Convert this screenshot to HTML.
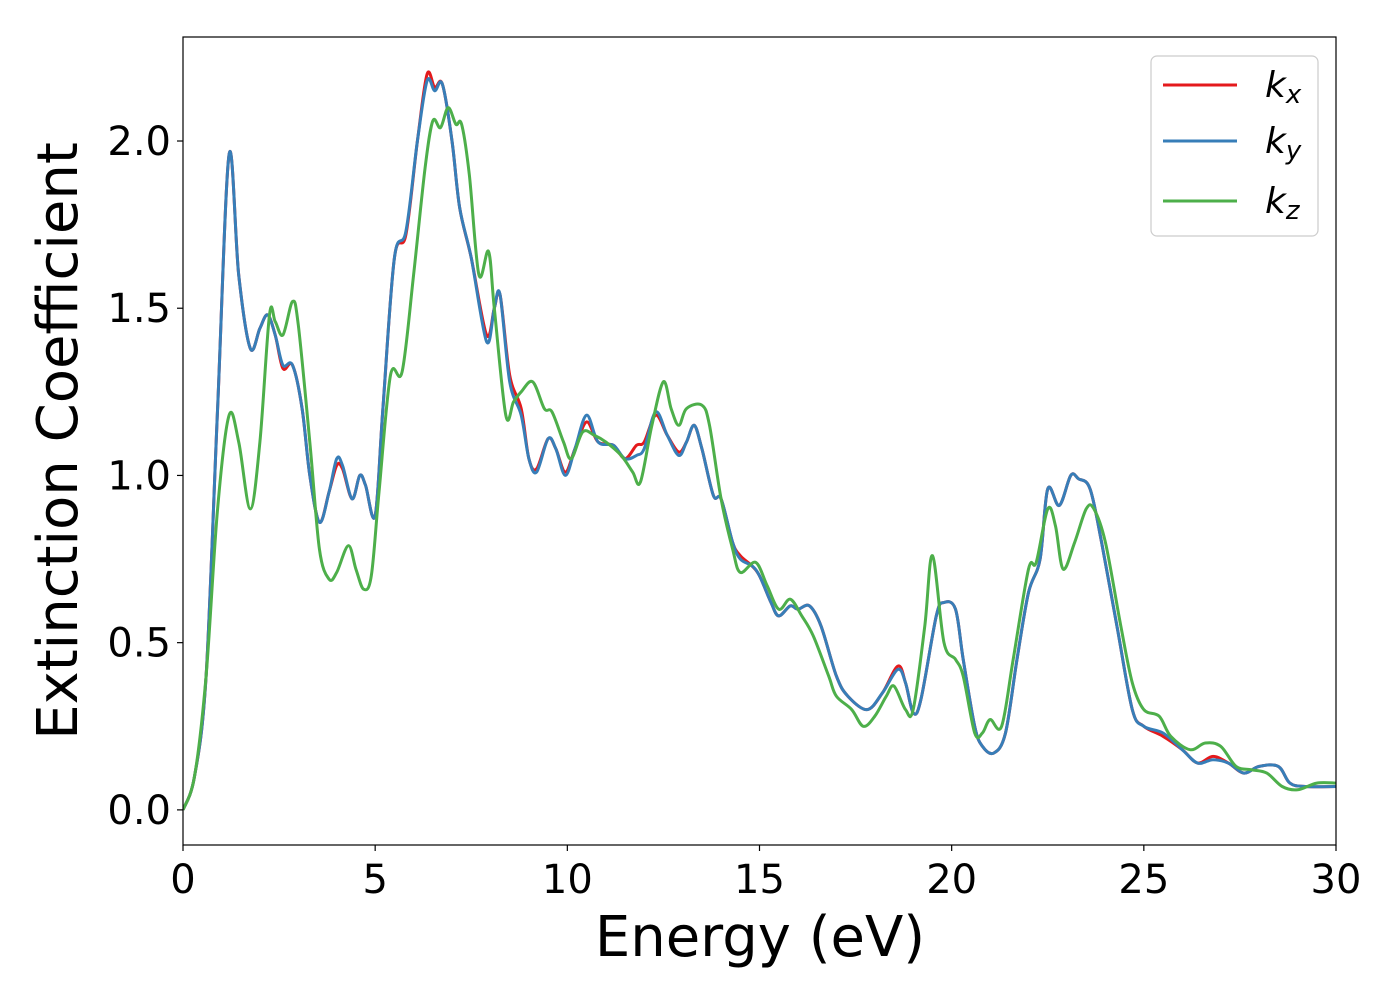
<!DOCTYPE html>
<html><head><meta charset="utf-8"><style>
body{margin:0;background:#fff;}
svg{display:block;font-family:"DejaVu Sans","Liberation Sans",sans-serif;}
</style></head><body>
<svg id="chart" width="1400" height="1000" viewBox="0 0 1400 1000">
<rect x="0" y="0" width="1400" height="1000" fill="#fff"/>
<g id="plot"></g>
<rect x="183" y="37" width="1153" height="808" fill="none" stroke="#000" stroke-width="1.2"/>
<g id="ticks"></g>
<text x="760" y="956" font-size="56" text-anchor="middle">Energy (eV)</text>
<text transform="translate(77,441) rotate(-90)" font-size="56" text-anchor="middle">Extinction Coefficient</text>
<g>
<rect x="1151" y="56" width="167" height="180" rx="6" fill="#fff" fill-opacity="0.8" stroke="#ccc" stroke-width="1.2"/>
<line x1="1163" y1="85" x2="1237" y2="85" stroke="#e41a1c" stroke-width="3"/>
<text x="1265" y="97" font-size="36" font-style="italic">k<tspan font-size="26" dy="6">x</tspan></text>
<line x1="1163" y1="141" x2="1237" y2="141" stroke="#377eb8" stroke-width="3"/>
<text x="1265" y="153" font-size="36" font-style="italic">k<tspan font-size="26" dy="6">y</tspan></text>
<line x1="1163" y1="201" x2="1237" y2="201" stroke="#4daf4a" stroke-width="3"/>
<text x="1265" y="213" font-size="36" font-style="italic">k<tspan font-size="26" dy="6">z</tspan></text>
</g>
</svg>
<script>
const xTicks=[0,5,10,15,20,25,30];
const yTicks=[0.0,0.5,1.0,1.5,2.0];
const yTickLabels=["0.0","0.5","1.0","1.5","2.0"];
const kxE=[0,0.3,0.6,0.9,1.2,1.45,1.75,2.0,2.2,2.4,2.6,2.85,3.1,3.3,3.55,3.8,4.0,4.15,4.4,4.6,4.75,5.0,5.2,5.5,5.8,6.1,6.35,6.55,6.75,7.0,7.2,7.5,7.9,8.1,8.25,8.5,8.8,9.0,9.2,9.5,9.7,9.95,10.2,10.5,10.8,11.2,11.5,11.8,12.0,12.3,12.6,12.9,13.1,13.3,13.5,13.8,14.0,14.3,14.5,14.8,15.0,15.3,15.5,15.8,16.0,16.3,16.6,17.0,17.3,17.8,18.2,18.6,18.8,19.0,19.2,19.6,19.8,20.1,20.3,20.6,20.8,21.1,21.4,21.7,22.0,22.3,22.5,22.8,23.1,23.3,23.6,23.9,24.3,24.7,25.0,25.5,26.0,26.4,26.8,27.2,27.6,28.0,28.5,28.8,29.2,30];
const kxV=[0,0.1,0.4,1.2,1.96,1.6,1.38,1.44,1.48,1.42,1.32,1.33,1.2,1.0,0.86,0.95,1.03,1.02,0.93,1.0,0.97,0.88,1.2,1.65,1.72,2.0,2.2,2.16,2.17,2.0,1.8,1.65,1.42,1.5,1.54,1.3,1.2,1.05,1.02,1.11,1.08,1.01,1.08,1.16,1.1,1.09,1.05,1.09,1.1,1.18,1.12,1.07,1.1,1.15,1.08,0.94,0.93,0.8,0.76,0.73,0.7,0.62,0.58,0.61,0.6,0.61,0.55,0.4,0.34,0.3,0.35,0.43,0.38,0.29,0.33,0.58,0.62,0.6,0.45,0.25,0.19,0.17,0.23,0.45,0.65,0.75,0.96,0.91,1.0,0.99,0.96,0.8,0.55,0.3,0.25,0.22,0.18,0.14,0.16,0.14,0.11,0.13,0.13,0.08,0.07,0.07];
const kyV=[0,0.1,0.4,1.2,1.96,1.6,1.38,1.44,1.48,1.42,1.33,1.33,1.2,1.0,0.86,0.95,1.05,1.03,0.93,1.0,0.97,0.88,1.2,1.65,1.73,2.0,2.18,2.15,2.17,2.0,1.8,1.65,1.4,1.5,1.54,1.28,1.18,1.05,1.01,1.11,1.08,1.0,1.08,1.18,1.1,1.09,1.05,1.06,1.08,1.19,1.12,1.06,1.1,1.15,1.08,0.94,0.93,0.8,0.75,0.73,0.7,0.62,0.58,0.61,0.6,0.61,0.55,0.4,0.34,0.3,0.35,0.42,0.38,0.29,0.33,0.58,0.62,0.6,0.45,0.25,0.19,0.17,0.23,0.45,0.65,0.75,0.96,0.91,1.0,0.99,0.96,0.8,0.55,0.3,0.25,0.23,0.18,0.14,0.15,0.14,0.11,0.13,0.13,0.08,0.07,0.07];
const kzE=[0,0.3,0.6,0.9,1.2,1.45,1.75,2.0,2.25,2.4,2.6,2.85,3.0,3.3,3.55,3.8,4.0,4.3,4.5,4.7,4.9,5.1,5.4,5.7,6.0,6.3,6.5,6.7,6.9,7.1,7.25,7.45,7.7,7.95,8.1,8.4,8.6,8.8,9.1,9.4,9.6,9.9,10.1,10.4,10.7,11.0,11.4,11.7,11.9,12.2,12.5,12.7,12.9,13.1,13.5,13.7,14.0,14.3,14.5,14.9,15.2,15.5,15.8,16.1,16.4,16.8,17.0,17.4,17.7,18.0,18.3,18.5,18.8,19.0,19.3,19.5,19.8,20.1,20.3,20.6,20.8,21.0,21.3,21.6,22.0,22.2,22.5,22.7,22.9,23.2,23.5,23.7,24.0,24.4,24.7,25.0,25.4,25.7,26.2,26.6,27.0,27.4,27.8,28.2,28.6,29.0,29.5,30];
const kzV=[0,0.1,0.4,0.9,1.18,1.1,0.9,1.1,1.48,1.46,1.42,1.52,1.45,1.1,0.78,0.69,0.71,0.79,0.72,0.66,0.7,0.95,1.3,1.31,1.6,1.92,2.06,2.04,2.1,2.05,2.05,1.9,1.6,1.67,1.5,1.18,1.22,1.25,1.28,1.2,1.19,1.1,1.05,1.13,1.12,1.1,1.06,1.01,0.98,1.15,1.28,1.2,1.15,1.2,1.21,1.15,0.93,0.78,0.71,0.74,0.67,0.6,0.63,0.58,0.52,0.4,0.34,0.3,0.25,0.28,0.34,0.37,0.3,0.3,0.55,0.76,0.5,0.45,0.4,0.23,0.23,0.27,0.25,0.45,0.72,0.74,0.9,0.85,0.72,0.8,0.9,0.9,0.8,0.55,0.38,0.3,0.28,0.22,0.18,0.2,0.19,0.13,0.12,0.11,0.07,0.06,0.08,0.08];

const X0=183,X1=1336,Y0=845,Y1=37,xmin=0,xmax=30,ymin=-0.105,ymax=2.311;
function sx(v){return X0+(v-xmin)/(xmax-xmin)*(X1-X0);}
function sy(v){return Y0-(v-ymin)/(ymax-ymin)*(Y0-Y1);}
const NS="http://www.w3.org/2000/svg";
const plot=document.getElementById('plot'),ticks=document.getElementById('ticks');
function mk(t,a,p){const e=document.createElementNS(NS,t);for(const k in a)e.setAttribute(k,a[k]);p.appendChild(e);return e;}
function pathD(E,V){
  const P=E.map((e,i)=>[sx(e),sy(V[i])]);
  let d="M"+P[0][0].toFixed(1)+","+P[0][1].toFixed(1);
  for(let i=0;i<P.length-1;i++){
    const p0=P[Math.max(0,i-1)],p1=P[i],p2=P[i+1],p3=P[Math.min(P.length-1,i+2)];
    const c1=[p1[0]+(p2[0]-p0[0])/6,p1[1]+(p2[1]-p0[1])/6];
    const c2=[p2[0]-(p3[0]-p1[0])/6,p2[1]-(p3[1]-p1[1])/6];
    d+=" C"+c1[0].toFixed(1)+","+c1[1].toFixed(1)+" "+c2[0].toFixed(1)+","+c2[1].toFixed(1)+" "+p2[0].toFixed(1)+","+p2[1].toFixed(1);
  }
  return d;
}
const cp=mk('clipPath',{id:'clip'},plot);mk('rect',{x:X0,y:Y1,width:X1-X0,height:Y0-Y1},cp);
const series=[[kxE,kxV,'#e41a1c','series-kx'],[kxE,kyV,'#377eb8','series-ky'],[kzE,kzV,'#4daf4a','series-kz']];
series.forEach(s=>{
  const p=mk('path',{d:pathD(s[0],s[1]),fill:'none',stroke:s[2],'stroke-width':3,'stroke-linejoin':'round','clip-path':'url(#clip)'},plot);
  
  
});
xTicks.forEach(t=>{
  mk('line',{x1:sx(t),x2:sx(t),y1:Y0,y2:Y0+6,stroke:'#000','stroke-width':1.2},ticks);
  const tx=mk('text',{x:sx(t),y:Y0+48,'font-size':40,'text-anchor':'middle'},ticks);
  tx.textContent=t;
  
  
});
yTicks.forEach((t,i)=>{
  mk('line',{x1:X0-6,x2:X0,y1:sy(t),y2:sy(t),stroke:'#000','stroke-width':1.2},ticks);
  const tx=mk('text',{x:X0-12,y:sy(t)+14,'font-size':40,'text-anchor':'end'},ticks);
  tx.textContent=yTickLabels[i];
  
  
});
</script>
</body></html>
